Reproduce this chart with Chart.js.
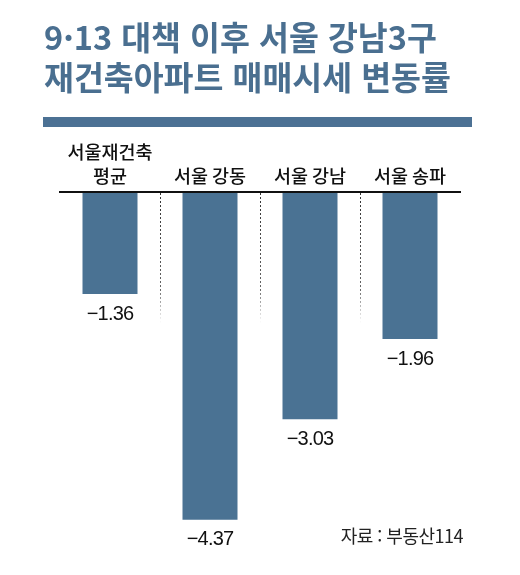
<!DOCTYPE html>
<html lang="ko">
<head>
<meta charset="utf-8">
<script src="https://cdn.jsdelivr.net/npm/chart.js@4"></script>
<style>
  html, body { margin: 0; padding: 0; background: #fff; }
  #wrap { position: relative; width: 520px; height: 575px; }
  #chart { position: absolute; left: 0; top: 0; }
  .title {
    position: absolute; left: 44px; top: 16px; margin: 0;
    font: bold 32.5px/40px "Noto Sans CJK KR", sans-serif;
    color: #4a6f90; white-space: nowrap;
  }
  .rule { position: absolute; left: 43px; top: 117px; width: 429px; height: 10px; background: #4c7194; }
  .source {
    position: absolute; right: 57px; top: 524px;
    font: 18px/22px "Noto Sans CJK KR", sans-serif; color: #222; letter-spacing: -0.5px;
  }
</style>
</head>
<body>
<div id="wrap">
  <canvas id="chart" width="520" height="575"></canvas>
  <h1 class="title">9·13 대책 이후 서울 강남3구<br>재건축아파트 매매시세 변동률</h1>
  <div class="rule"></div>
  <div class="source">자료 : 부동산114</div>
</div>
<script>
// 지역별 재건축 아파트 매매시세 변동률 (%)
const regions = [['서울재건축', '평균'], '서울 강동', '서울 강남', '서울 송파'];
const changeRates = [-1.36, -4.37, -3.03, -1.96];
const yMin = -4.6;
const yMax = 0;

// 막대 아래 값 표시
const valueLabels = {
    id: 'valueLabels',
    afterDatasetsDraw(chart) {
        const { ctx } = chart;
        ctx.save();
        ctx.font = '20px "Liberation Sans", Arial, sans-serif';
        ctx.letterSpacing = '-0.8px';
        ctx.fillStyle = '#111';
        ctx.textAlign = 'center';
        ctx.textBaseline = 'middle';
        chart.getDatasetMeta(0).data.forEach((bar, i) => {
            const text = changeRates[i].toFixed(2).replace('-', '\u2212');
            ctx.fillText(text, bar.x, bar.y + 20);
        });
        ctx.restore();
    }
};

// 구분 점선: 위에서 아래로 흐려짐
function dividerColor(ctx) {
    if (!(ctx.index > 0 && ctx.index < regions.length)) return 'rgba(0,0,0,0)';
    const { ctx: c, chartArea } = ctx.chart;
    if (!chartArea) return '#444';
    const g = c.createLinearGradient(0, chartArea.top, 0, chartArea.bottom);
    g.addColorStop(0, '#333');
    g.addColorStop(0.28, '#666');
    g.addColorStop(0.38, 'rgba(120,120,120,0)');
    g.addColorStop(1, 'rgba(120,120,120,0)');
    return g;
}

new Chart(document.getElementById('chart'), {
    type: 'bar',
    data: {
        labels: regions,
        datasets: [{
            data: changeRates,
            backgroundColor: '#4a7293',
            borderWidth: 0,
            barPercentage: 0.55,
            categoryPercentage: 1
        }]
    },
    options: {
        responsive: false,
        animation: false,
        layout: { padding: { top: 136, left: 60, right: 60, bottom: 38 } },
        plugins: { legend: { display: false }, tooltip: { enabled: false } },
        scales: {
            x: {
                position: 'top',
                grid: { offset: true, drawTicks: false, lineWidth: 1, color: dividerColor },
                border: { display: true, color: '#111', width: 2, dash: [2, 2], z: 1 },
                ticks: {
                    padding: 4,
                    maxRotation: 0,
                    autoSkip: false,
                    color: '#111',
                    font: { family: '"Noto Sans CJK KR", sans-serif', size: 18.5, weight: '500', lineHeight: 1.3 }
                }
            },
            y: { display: false, min: yMin, max: yMax }
        }
    },
    plugins: [valueLabels]
});
</script>
</body>
</html>
